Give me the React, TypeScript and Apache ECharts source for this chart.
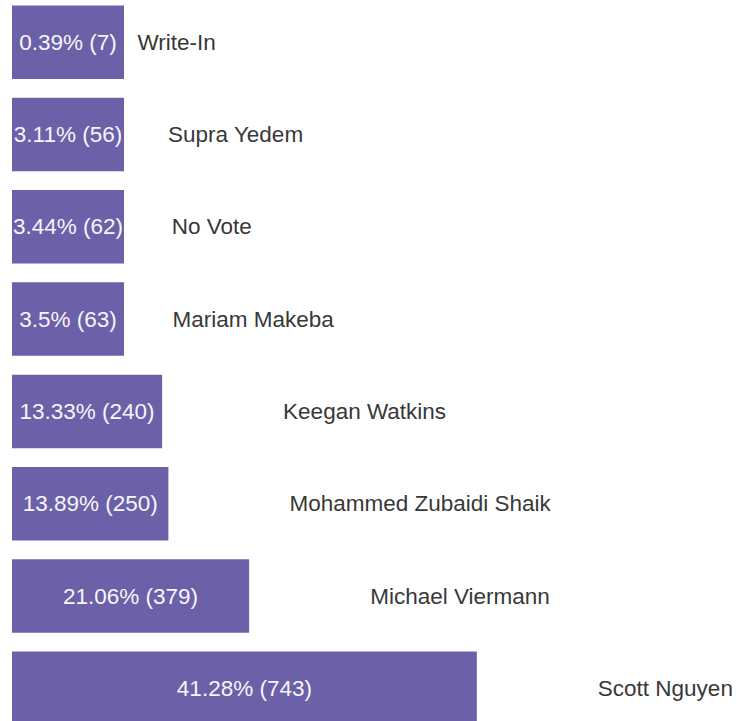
import React, { useEffect, useRef } from "react";
import * as echarts from "echarts";

const names = [
  "Write-In",
  "Supra Yedem",
  "No Vote",
  "Mariam Makeba",
  "Keegan Watkins",
  "Mohammed Zubaidi Shaik",
  "Michael Viermann",
  "Scott Nguyen",
];
const percents = [0.39, 3.11, 3.44, 3.5, 13.33, 13.89, 21.06, 41.28];
const counts = [7, 56, 62, 63, 240, 250, 379, 743];

export default function App() {
  const ref = useRef<HTMLDivElement>(null);
  useEffect(() => {
    if (!ref.current) return;
    const chart = echarts.init(ref.current, null, { renderer: "svg" });
    chart.setOption({
      animation: false,
      grid: {
        left: 12,
        width: 563,
        top: -4,
        height: 738.5,
        containLabel: false,
        outerBoundsMode: "none",
      },
      xAxis: { type: "value", min: 0, max: 50, show: false },
      yAxis: {
        type: "category",
        data: names,
        inverse: true,
        show: false,
      },
      series: [
        {
          type: "bar",
          data: percents,
          barWidth: 73.5,
          barMinHeight: 112,
          barGap: "-100%",
          itemStyle: { color: "#6c60a8" },
          label: {
            show: true,
            position: "inside",
            color: "#f6f6fa",
            fontFamily: "Liberation Sans, Arial",
            fontSize: 22.5,
            formatter: (p: any) => `${percents[p.dataIndex]}% (${counts[p.dataIndex]})`,
          },
          silent: true,
        },
        {
          type: "bar",
          data: percents,
          barWidth: 73.5,
          barGap: "-100%",
          itemStyle: { color: "rgba(0,0,0,0)" },
          label: {
            show: true,
            position: "right",
            distance: 121,
            color: "#383838",
            fontFamily: "Liberation Sans, Arial",
            fontSize: 22.5,
            formatter: (p: any) => names[p.dataIndex],
          },
          silent: true,
        },
      ],
    });
    return () => chart.dispose();
  }, []);
  return (
    <div
      ref={ref}
      style={{ position: "fixed", left: 0, top: 0, width: 737, height: 721, background: "#fff" }}
    />
  );
}
